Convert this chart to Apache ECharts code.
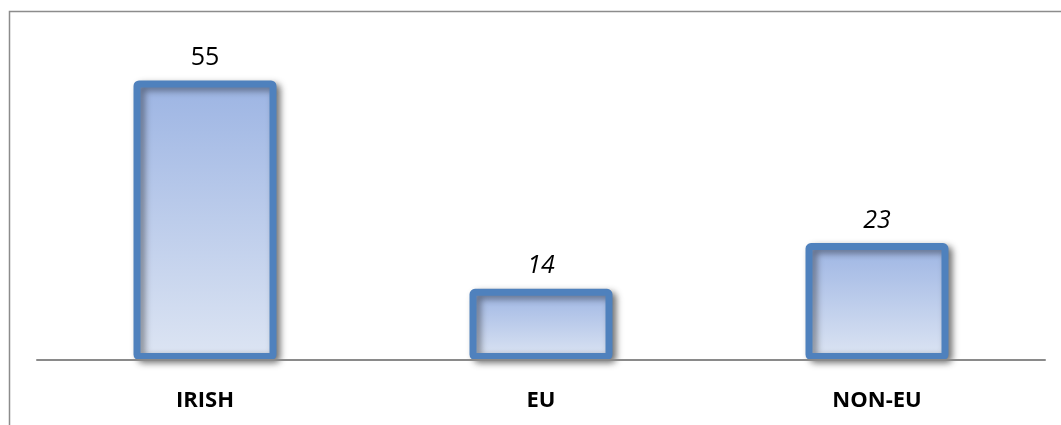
<!DOCTYPE html>
<html><head><meta charset="utf-8">
<script src="https://cdn.jsdelivr.net/npm/echarts@6/dist/echarts.min.js"></script>
<style>html,body{margin:0;padding:0;background:#fff}#c{width:1061px;height:425px}</style>
</head><body><div id="c"></div>
<script>
const categories = ['IRISH', 'EU', 'NON-EU'];
const values = [55, 14, 23];
const labelItalic = [false, true, true];

const chart = echarts.init(document.getElementById('c'));
chart.setOption({
  animation: false,
  backgroundColor: '#fff',
  graphic: [{
    type: 'rect', left: 7, top: 9, silent: true,
    shape: { width: 1200, height: 600 },
    style: { fill: 'none', stroke: '#8c8c8c', lineWidth: 1.5 }
  }],
  grid: { left: 37, right: 16, top: 55, bottom: 65 },
  xAxis: {
    type: 'category', data: categories, z: 5,
    axisLine: { lineStyle: { color: '#8a8a8a', width: 2 } },
    axisTick: { show: false },
    axisLabel: { color: '#000', fontFamily: 'Open Sans', fontWeight: 'bold', fontSize: 22, margin: 30 }
  },
  yAxis: { type: 'value', min: 0, max: 60, show: false, splitLine: { show: false } },
  series: [{
    type: 'bar',
    barWidth: 143,
    z: 2,
    data: values.map((v, i) => ({
      value: v,
      label: { fontStyle: labelItalic[i] ? 'italic' : 'normal' }
    })),
    itemStyle: {
      color: new echarts.graphic.LinearGradient(0, 0, 0, 1, [
        { offset: 0, color: '#9cb4e3' },
        { offset: 1, color: '#dde5f3' }
      ]),
      borderColor: '#4f81bd', borderWidth: 7, borderRadius: 2,
      shadowColor: 'rgba(0,0,0,0.45)', shadowBlur: 7, shadowOffsetX: 4, shadowOffsetY: 3
    },
    label: {
      show: true, position: 'top', distance: 10,
      color: '#000', fontFamily: 'Open Sans', fontSize: 25
    }
  }]
});
</script></body></html>
